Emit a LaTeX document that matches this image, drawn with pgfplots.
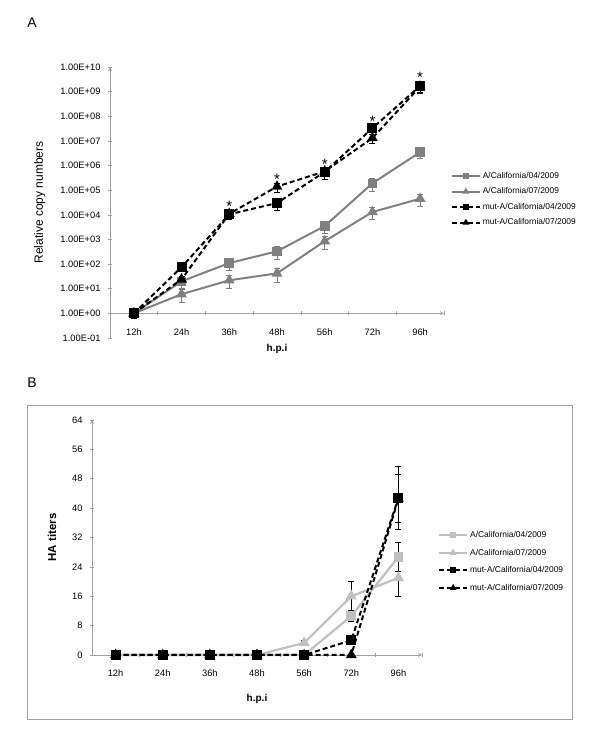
\documentclass[border=0pt]{standalone}
\usepackage{pgfplots}
\usepackage{pgfplotstable}
\pgfplotsset{compat=1.18}
\usepackage{fontspec}
\setmainfont{Liberation Sans}
\definecolor{gA}{HTML}{808080}
\definecolor{gB}{HTML}{C0C0C0}
\definecolor{axg}{HTML}{A0A0A0}

\pgfplotstableread{
x y e
0.5 1 0.3
1.5 20 0.5
2.5 110 0.5
3.5 330 0.55
4.5 3500 0.5
5.5 1.9e5 0.55
6.5 3.5e6 0.45
}\tAa
\pgfplotstableread{
x y e
0.5 1 0.3
1.5 6 0.55
2.5 22 0.55
3.5 42 0.55
4.5 850 0.55
5.5 1.3e4 0.5
6.5 4.5e4 0.5
}\tAb
\pgfplotstableread{
x y e
0.5 1 0.4
1.5 75 0.2
2.5 1.05e4 0.4
3.5 3.0e4 0.5
4.5 5.5e5 0.5
5.5 3.3e7 0.3
6.5 1.7e9 0.5
}\tAc
\pgfplotstableread{
x y e
0.5 1 0.3
1.5 24 0.3
2.5 1.1e4 0.35
3.5 1.4e5 0.4
4.5 5.8e5 0.4
5.5 1.3e7 0.4
6.5 1.6e9 0.4
}\tAd
\pgfplotstableread{
x y
2.5 2.7e4
3.5 3.4e5
4.5 1.4e6
5.5 7.7e7
6.5 4.7e9
}\tStar

\pgfplotstableread{
x y
0.5 0
1.5 0
2.5 0
3.5 0
4.5 0
5.5 10.6
6.5 26.7
}\tBa
\pgfplotstableread{
x y
0.5 0
1.5 0
2.5 0
3.5 0
4.5 3.3
5.5 16
6.5 21
}\tBb
\pgfplotstableread{
x y
0.5 0
1.5 0
2.5 0
3.5 0
4.5 0
5.5 4
6.5 42.8
}\tBc
\pgfplotstableread{
x y
0.5 0
1.5 0
2.5 0
3.5 0
4.5 0
5.5 0
6.5 42.6
}\tBd
\pgfplotstableread{
x y e
5.5 10.6 1.5
6.5 26.7 4
4.5 3.3 0.6
5.5 16 4
6.5 21 5
5.5 4 0.8
6.5 42.8 8.5
6.5 42.6 6.5
}\tBerr

\pgfplotsset{
  common/.style={
    scale only axis,
    xmin=0, xmax=7,
    axis line style={-, draw=axg, line width=0.8bp},
    xtick={0.5,1.5,...,6.5},
    xticklabels={12h,24h,36h,48h,56h,72h,96h},
    minor xtick={1,2,...,7},
    every major x tick/.append style={draw=none},
    tick style={draw=axg, line width=0.6bp},
    major tick length=4bp, minor tick length=4bp,
    tick align=outside,
    tick label style={font=\fontsize{9.3bp}{11bp}\selectfont, text=black},
    yticklabel style={xshift=-4bp},
    /pgf/number format/assume math mode=true,
    label style={font=\bfseries\fontsize{11.5bp}{13bp}\selectfont},
    legend cell align=left,
    legend image code/.code={\draw[mark repeat=2,mark phase=2,##1] plot coordinates {(0bp,0bp) (14bp,0bp) (28bp,0bp)};},
    legend image post style={mark size=2bp},
  }
}

\begin{document}
\begin{tikzpicture}
\useasboundingbox (0bp,0bp) rectangle (600bp,749bp);
\node[font=\fontsize{14bp}{16bp}\selectfont] at (32bp,726bp) {A};
\node[font=\fontsize{14bp}{16bp}\selectfont] at (32bp,366bp) {B};
\draw[axg, line width=1bp] (27bp,343bp) rectangle (572bp,29bp);

\begin{axis}[common,
  at={(110bp,411bp)}, anchor=south west,
  width=334bp, height=271bp,
  ymode=log, ymin=0.1, ymax=1e10,
  axis y line=left, axis x line=middle,
  hide obscured x ticks=false, hide obscured y ticks=false,
  ytick={0.1,1,10,100,1000,1e4,1e5,1e6,1e7,1e8,1e9,1e10},
  yticklabels={1.00E-01,1.00E+00,1.00E+01,1.00E+02,1.00E+03,1.00E+04,1.00E+05,1.00E+06,1.00E+07,1.00E+08,1.00E+09,1.00E+10},
  yminorticks=false,
  xticklabel style={yshift=-10bp},
  xlabel={h.p.i},
  xlabel style={at={(axis description cs:0.5,-0.04)}, anchor=center, font=\bfseries\fontsize{10bp}{12bp}\selectfont},
  ylabel={Relative copy numbers},
  ylabel style={at={(axis description cs:-0.21,0.5)}, anchor=center, font=\fontsize{12bp}{14bp}\selectfont},
  legend style={at={(axis description cs:1.02,0.62)}, anchor=north west, draw=none, fill=none,
    font=\fontsize{8.4bp}{10bp}\selectfont, row sep=4bp, inner sep=0pt},
  clip=false,
]
\addplot[gA, line width=2bp, mark=square*, mark size=3.8bp,
  error bars/.cd, y dir=both, y explicit relative,
  error bar style={gA, line width=0.8bp},
  error mark options={rotate=90, gA, mark size=3bp, line width=0.8bp}]
  table[x=x,y=y,y error=e] {\tAa};
\addlegendentry{A/California/04/2009}
\addplot[gA, line width=2bp, mark=triangle*, mark size=4.3bp,
  error bars/.cd, y dir=both, y explicit relative,
  error bar style={gA, line width=0.8bp},
  error mark options={rotate=90, gA, mark size=3bp, line width=0.8bp}]
  table[x=x,y=y,y error=e] {\tAb};
\addlegendentry{A/California/07/2009}
\addplot[black, line width=2bp, dash pattern=on 5bp off 3bp, mark=square*, mark size=4bp, mark options={solid},
  error bars/.cd, y dir=both, y explicit relative,
  error bar style={black, solid, line width=0.8bp},
  error mark options={rotate=90, black, solid, mark size=3bp, line width=0.8bp}]
  table[x=x,y=y,y error=e] {\tAc};
\addlegendentry{mut-A/California/04/2009}
\addplot[black, line width=2bp, dash pattern=on 5bp off 3bp, mark=triangle*, mark size=4.3bp, mark options={solid},
  error bars/.cd, y dir=both, y explicit relative,
  error bar style={black, solid, line width=0.8bp},
  error mark options={rotate=90, black, solid, mark size=3bp, line width=0.8bp}]
  table[x=x,y=y,y error=e] {\tAd};
\addlegendentry{mut-A/California/07/2009}
\addplot[draw=none, mark=none, forget plot, nodes near coords={*},
  every node near coord/.style={anchor=center, yshift=-2.5bp, inner sep=0pt, font=\fontsize{15bp}{15bp}\selectfont}]
  table[x=x,y=y] {\tStar};
\end{axis}

\begin{axis}[common,
  at={(92bp,94bp)}, anchor=south west,
  width=330bp, height=235bp,
  ymin=0, ymax=64,
  axis y line=left, axis x line=bottom,
  ytick={0,8,...,64},
  xticklabel style={yshift=-9bp},
  xlabel={h.p.i},
  xlabel style={at={(axis description cs:0.5,-0.187)}, anchor=center, font=\bfseries\fontsize{10bp}{12bp}\selectfont},
  ylabel={HA titers},
  ylabel style={at={(axis description cs:-0.121,0.5)}, anchor=center},
  legend style={at={(axis description cs:1.048,0.535)}, anchor=north west, draw=none, fill=none,
    font=\fontsize{8.4bp}{10bp}\selectfont, row sep=6bp, inner sep=0pt},
  clip=false,
]
\addplot[only marks, mark=none, forget plot,
  error bars/.cd, y dir=both, y explicit,
  error bar style={black, line width=0.8bp},
  error mark options={rotate=90, black, mark size=3bp, line width=0.8bp}]
  table[x=x,y=y,y error=e] {\tBerr};
\addplot[gB, line width=2.2bp, mark=square*, mark size=3.8bp] table[x=x,y=y] {\tBa};
\addlegendentry{A/California/04/2009}
\addplot[gB, line width=2.2bp, mark=triangle*, mark size=4.3bp] table[x=x,y=y] {\tBb};
\addlegendentry{A/California/07/2009}
\addplot[black, line width=2bp, dash pattern=on 5bp off 3bp, mark=square*, mark size=4bp, mark options={solid}] table[x=x,y=y] {\tBc};
\addlegendentry{mut-A/California/04/2009}
\addplot[black, line width=2bp, dash pattern=on 5bp off 3bp, mark=triangle*, mark size=4.3bp, mark options={solid}] table[x=x,y=y] {\tBd};
\addlegendentry{mut-A/California/07/2009}
\end{axis}
\end{tikzpicture}
\end{document}
